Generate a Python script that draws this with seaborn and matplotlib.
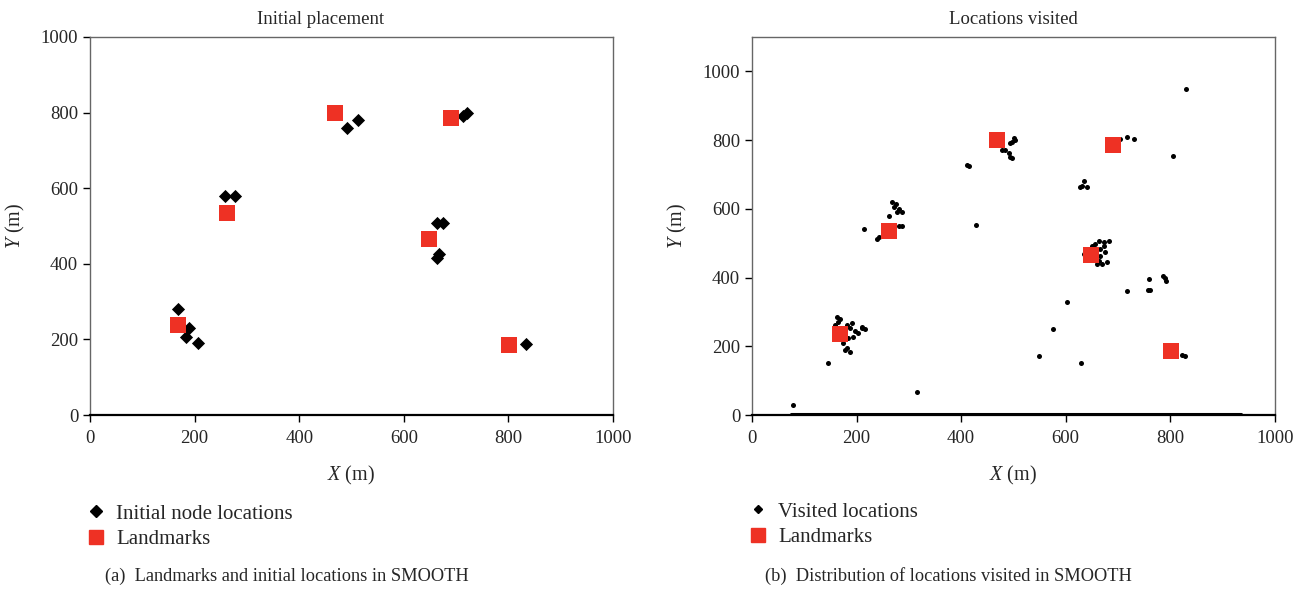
# Recreate the SMOOTH mobility figure: (a) landmarks + initial nodes,
# (b) landmarks + visited locations.

import matplotlib
matplotlib.use("Agg")
import matplotlib.pyplot as plt
from matplotlib.lines import Line2D
import seaborn as sns

# --- data (metres) ---------------------------------------------------------
landmark_x = [168, 262, 468, 690, 648, 802]
landmark_y = [237, 535, 800, 785, 465, 185]

node_x = [168, 189, 184, 207, 259, 278, 492, 512, 714, 720, 663, 674, 663, 668, 833]
node_y = [280, 229, 207, 190, 579, 579, 760, 780, 791, 800, 509, 509, 415, 425, 187]

visited_x = [
    # around landmark 1
    163, 164, 159, 168, 182, 191, 187, 197, 203, 210, 210, 216, 193, 184, 174, 182, 187, 178, 145,
    # around landmark 2
    268, 275, 271, 281, 287, 277, 262, 287, 281, 214, 243, 239,
    # around landmark 3
    501, 503, 497, 493, 478, 483, 491, 493, 497,
    # around landmark 5
    663, 673, 682, 673, 656, 665, 675, 665, 663, 659, 669, 679, 650, 635,
    # near landmark 4 and the 650/670 patch
    703, 717, 730, 635, 631, 627, 640,
    # patch around 780/390
    757, 762, 759, 786, 790, 792, 717,
    # scattered
    411, 415, 428, 602, 575, 549, 629, 830, 805, 78, 315, 822, 828,
]
visited_y = [
    284, 272, 263, 278, 263, 269, 254, 243, 240, 254, 257, 249, 228, 225, 210, 196, 184, 190, 152,
    620, 614, 605, 599, 591, 591, 579, 550, 550, 541, 518, 512,
    806, 800, 794, 791, 771, 771, 762, 750, 747,
    506, 503, 506, 491, 497, 482, 474, 462, 447, 439, 439, 444, 491, 468,
    803, 809, 803, 680, 666, 663, 663,
    365, 364, 397, 405, 398, 390, 362,
    728, 725, 553, 328, 249, 172, 151, 950, 754, 29, 67, 175, 173,
]

# nodes running along the lower boundary
edge_x = [75, 935]
edge_y = [3, 3]

ticks = [0, 200, 400, 600, 800, 1000]
RED = "#ee3124"

sns.set_style("white")
plt.rcParams["font.family"] = ["Liberation Serif", "DejaVu Serif"]
plt.rcParams["mathtext.fontset"] = "custom"
plt.rcParams["mathtext.rm"] = "Liberation Serif"
plt.rcParams["mathtext.it"] = "Liberation Serif:italic"

fig = plt.figure(figsize=(13.16, 5.91), dpi=100)
ax1 = fig.add_axes([0.0684, 0.2978, 0.3974, 0.6396])
ax2 = fig.add_axes([0.5714, 0.2978, 0.3974, 0.6396])


def style_axes(ax, ymax, title, title_x):
    ax.set_xlim(0, 1000)
    ax.set_ylim(0, ymax)
    ax.set_xticks(ticks)
    ax.set_yticks(ticks)
    ax.tick_params(axis="both", direction="out", length=5, width=1,
                   labelsize=13.5, bottom=True, left=True, color="black")
    ax.tick_params(axis="x", pad=6)
    ax.set_xlabel(r"$X$ (m)", fontsize=14.5, labelpad=12)
    ax.set_ylabel(r"$Y$ (m)", fontsize=14.5, labelpad=10)
    ax.set_title(title, fontsize=13.5, pad=9, x=title_x)
    for side in ["left", "top", "right"]:
        ax.spines[side].set_color("#666666")
        ax.spines[side].set_linewidth(1.0)
    ax.spines["bottom"].set_color("black")
    ax.spines["bottom"].set_linewidth(1.6)


# (a) initial placement
sns.scatterplot(x=node_x, y=node_y, marker="D", s=45, color="black",
                linewidth=0, ax=ax1, zorder=3)
sns.scatterplot(x=landmark_x, y=landmark_y, marker="s", s=130, color=RED,
                linewidth=0, ax=ax1, zorder=4)
style_axes(ax1, 1000, "Initial placement", 0.44)

# (b) locations visited
sns.lineplot(x=edge_x, y=edge_y, color="black", linewidth=2.2, ax=ax2, zorder=2)
sns.scatterplot(x=visited_x, y=visited_y, marker="o", s=13, color="black",
                linewidth=0, ax=ax2, zorder=3)
sns.scatterplot(x=landmark_x, y=landmark_y, marker="s", s=130, color=RED,
                linewidth=0, ax=ax2, zorder=4)
style_axes(ax2, 1100, "Locations visited", 0.5)

# legends under each panel
leg_kw = dict(loc="upper left", frameon=False, fontsize=15, borderpad=0,
              borderaxespad=0, handlelength=1.0, handletextpad=0.45,
              labelspacing=0.3)
h_node = Line2D([], [], ls="none", marker="D", ms=6.5, color="black")
h_visit = Line2D([], [], ls="none", marker="D", ms=4.2, color="black")
h_land = Line2D([], [], ls="none", marker="s", ms=10.5, color=RED)

fig.legend([h_node, h_land], ["Initial node locations", "Landmarks"],
           bbox_to_anchor=(86 / 1316, 1 - 504 / 591), **leg_kw)
fig.legend([h_visit, h_land], ["Visited locations", "Landmarks"],
           bbox_to_anchor=(748 / 1316, 1 - 502 / 591), **leg_kw)

fig.text(105 / 1316, 1 - 576 / 591,
         "(a)  Landmarks and initial locations in SMOOTH",
         fontsize=13.2, va="center", ha="left")
fig.text(765 / 1316, 1 - 576 / 591,
         "(b)  Distribution of locations visited in SMOOTH",
         fontsize=13.2, va="center", ha="left")

fig.savefig("out.png", dpi=100)
plt.close(fig)
